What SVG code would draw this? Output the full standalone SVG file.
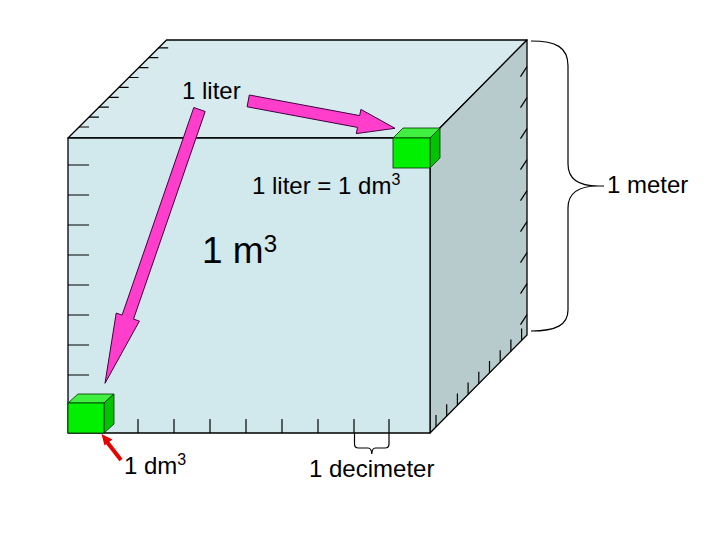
<svg xmlns="http://www.w3.org/2000/svg" width="720" height="540" viewBox="0 0 720 540">
<style>
.edge{stroke:#000;stroke-width:1.3;stroke-linejoin:round}
.tick{stroke:#000;stroke-width:1.2;fill:none}
.brace{stroke:#000;stroke-width:1.2;fill:none}
.t{font-family:"Liberation Sans",Arial,sans-serif;fill:#000}
.sup{font-size:16px}
.pink{fill:#ff3fcc;stroke:#400040;stroke-width:1}
.gf{fill:#00f000;stroke:#003000;stroke-width:0.8}
.gt{fill:#40f040;stroke:#003000;stroke-width:0.8}
.gr{fill:#00c400;stroke:#003000;stroke-width:0.8}
</style>
<rect width="720" height="540" fill="#fff"/>
<g id="bigcube">
  <polygon class="edge" fill="#d7ebee" points="68,138 166.5,40 527,40 430,138"/>
  <polygon class="edge" fill="#b8cbcc" points="430,138 527,40 527,335 430,433"/>
  <rect class="edge" fill="#d1e8ec" x="68" y="138" width="362" height="295"/>
</g>
<g id="ticks">
  <path class="tick" d="M79,127h10 M88.9,117.1h10 M98.8,107.2h10 M108.7,97.3h10 M118.6,87.4h10 M128.5,77.5h10 M138.4,67.6h10 M148.3,57.7h10 M158.2,47.8h10"/>
  <path class="tick" d="M68,165h21 M68,195h21 M68,225h21 M68,255h21 M68,285h21 M68,315h21 M68,345h21 M68,375h21 M68,405h21"/>
  <path class="tick" d="M138,433v-14 M174,433v-14 M210,433v-14 M246,433v-14 M282,433v-14 M318,433v-14 M354,433v-14 M389,433v-14"/>
  <path class="tick" d="M527,66.7l-6.5,10 M527,97.7l-6.5,10 M527,128.7l-6.5,10 M527,159.7l-6.5,10 M527,190.7l-6.5,10 M527,221.7l-6.5,10 M527,252.7l-6.5,10 M527,283.7l-6.5,10 M527,314.7l-6.5,10"/>
  <path class="tick" d="M436,427v-12 M446.7,416.2v-12 M457.4,405.4v-12 M468.1,394.6v-12 M478.8,383.8v-12 M489.5,373v-12 M500.2,362.2v-12 M510.9,351.4v-12 M521.6,340.6v-12"/>
</g>
<g id="braces">
  <path class="brace" d="M531,41 C556,41 568,47 568,66 V164 C568,180 580,186 598,186 H604 M598,186 C580,186 568,192 568,208 V310 C568,325 556,331 531,331"/>
  <path class="brace" d="M354.5,433 V444 Q354.5,448 358.5,448 H368 Q371.5,448 371.8,454 Q372,448 375.5,448 H385 Q389,448 389,444 V433"/>
</g>
<g id="cube-small-top">
  <polygon class="gt" points="393,138 403,128 440,128 430,138"/>
  <polygon class="gr" points="430,138 440,128 440,158 430,168"/>
  <rect class="gf" x="393" y="138" width="37" height="30"/>
</g>
<g id="cube-small-bottom">
  <polygon class="gt" points="68,403 78,394 114,394 104,403"/>
  <polygon class="gr" points="104,403 114,394 114,424 104,433"/>
  <rect class="gf" x="68" y="403" width="36" height="30"/>
</g>
<g id="connectors">
  <polygon class="pink" points="249.3,95 359.7,115.6 360.9,109.4 395,128.3 356.3,133.6 357.5,127.4 247.1,106.8"/>
  <polygon class="pink" points="193.8,107.5 205.2,111.5 133.5,319.1 139.4,321.1 105,383.3 116.2,313.1 122.1,315.1"/>
  <line x1="121" y1="460" x2="107" y2="442" stroke="#e80000" stroke-width="4"/>
  <polygon fill="#e80000" points="101.5,434 112.5,439.5 104.5,445.5"/>
</g>
<g id="labels">
  <text class="t" x="182" y="99" font-size="24">1 liter</text>
  <text class="t" x="252" y="194" font-size="24">1 liter = 1 dm<tspan class="sup" dy="-9">3</tspan></text>
  <text class="t" x="202" y="263" font-size="37">1 m<tspan font-size="24" dy="-11">3</tspan></text>
  <text class="t" x="124" y="474" font-size="24">1 dm<tspan class="sup" dy="-9">3</tspan></text>
  <text class="t" x="309" y="477" font-size="24">1 decimeter</text>
  <text class="t" x="607" y="193" font-size="24">1 meter</text>
</g>
</svg>
